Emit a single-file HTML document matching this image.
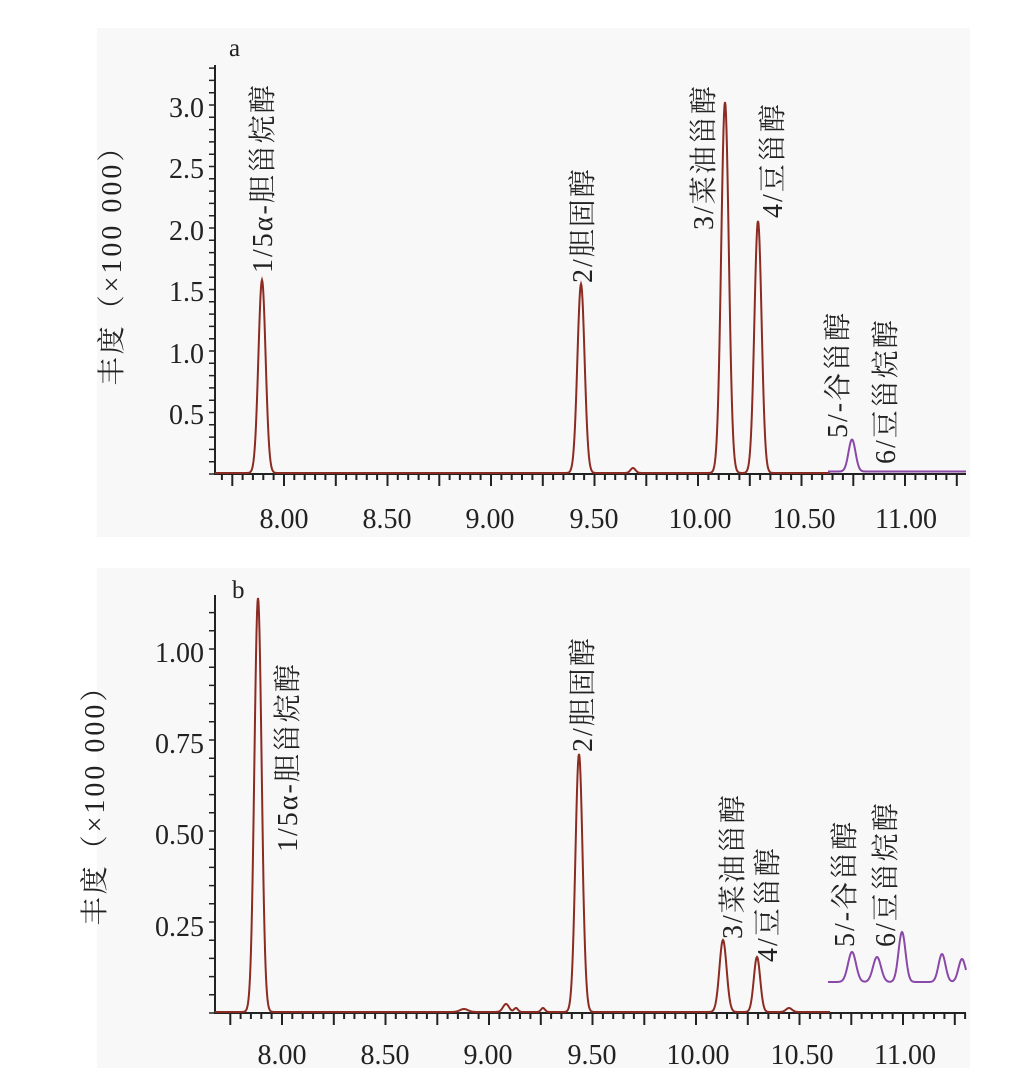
<!DOCTYPE html>
<html><head><meta charset="utf-8"><style>
body{margin:0;background:#fff;width:1019px;height:1091px;overflow:hidden}
svg{display:block}
text{font-family:"Liberation Serif","Noto Serif CJK SC",serif;fill:#222}
</style></head><body>
<svg id="s" width="1019" height="1091" xmlns="http://www.w3.org/2000/svg">
<rect x="97" y="28" width="873" height="509" fill="#f8f8f8"/>
<rect x="97" y="568" width="873" height="500" fill="#f8f8f8"/>
<text x="229" y="56" font-size="25">a</text>
<text x="232" y="598" font-size="25">b</text>
<g font-size="28" text-anchor="end">
<text x="204" y="117">3.0</text><text x="204" y="178">2.5</text><text x="204" y="240">2.0</text>
<text x="204" y="301">1.5</text><text x="204" y="363">1.0</text><text x="204" y="424">0.5</text>
<text x="204" y="662">1.00</text><text x="204" y="753">0.75</text><text x="204" y="844">0.50</text><text x="204" y="936">0.25</text>
</g>
<g font-size="28" text-anchor="middle">
<text x="284" y="528">8.00</text><text x="387" y="528">8.50</text><text x="490" y="528">9.00</text><text x="594" y="528">9.50</text><text x="700" y="528">10.00</text><text x="804" y="528">10.50</text><text x="906" y="528">11.00</text>
<text x="282" y="1064">8.00</text><text x="385" y="1064">8.50</text><text x="488" y="1064">9.00</text><text x="592" y="1064">9.50</text><text x="698" y="1064">10.00</text><text x="802" y="1064">10.50</text><text x="905" y="1064">11.00</text>
</g>
<g font-size="28" text-anchor="middle" letter-spacing="3">
<text transform="translate(121,258) rotate(-90)">丰度（×100 000）</text>
<text transform="translate(104,798) rotate(-90)">丰度（×100 000）</text>
</g>
<g font-size="28" letter-spacing="2">
<text transform="translate(272,273) rotate(-90)">1/5α-胆甾烷醇</text>
<text transform="translate(592,283) rotate(-90)">2/胆固醇</text>
<text transform="translate(713,230) rotate(-90)">3/菜油甾醇</text>
<text transform="translate(782,218) rotate(-90)">4/豆甾醇</text>
<text transform="translate(847,438) rotate(-90)">5/-谷甾醇</text>
<text transform="translate(895,464) rotate(-90)">6/豆甾烷醇</text>
<text transform="translate(297,852) rotate(-90)">1/5α-胆甾烷醇</text>
<text transform="translate(592,752) rotate(-90)">2/胆固醇</text>
<text transform="translate(742,939) rotate(-90)">3/菜油甾醇</text>
<text transform="translate(777,962) rotate(-90)">4/豆甾醇</text>
<text transform="translate(854,947) rotate(-90)">5/-谷甾醇</text>
<text transform="translate(895,947) rotate(-90)">6/豆甾烷醇</text>
</g>
<g id="ax" stroke="#222" fill="none"></g>
<g id="ser" fill="none" stroke-width="2"></g>
</svg>
<script>
var ax=document.getElementById('ax'),ser=document.getElementById('ser');
function add(p,tag,a){var e=document.createElementNS('http://www.w3.org/2000/svg',tag);for(var k in a)e.setAttribute(k,a[k]);p.appendChild(e);}
function axes(x0,top,base,yt,xs){
 add(ax,'path',{d:'M'+x0+' '+top+'V'+base+'H966','stroke-width':2});
 var d='';
 for(var y=base;y>top+2;y-=yt){d+='M'+(x0-6)+' '+y.toFixed(1)+'H'+x0;}
 add(ax,'path',{d:d,'stroke-width':1.5});
 d='';
 for(var i=0;;i++){var x=xs+i*10.35;if(x<x0+5){continue}if(x>966)break;var big=((i)%5==0);d+='M'+x.toFixed(1)+' '+base+'v'+(big?12:6);}
 add(ax,'path',{d:d,'stroke-width':2});
}
axes(215,65,474,12.3,284-10.35*5*6);
axes(215,595,1013,18.2,282-10.35*5*6);
function trace(x1,x2,base,peaks,off,col){
 var d='';
 for(var x=x1;x<=x2;x+=0.5){var y=base-off;for(var i=0;i<peaks.length;i++){var p=peaks[i];y-=p[1]*Math.exp(-Math.pow((x-p[0])/p[2],2)/2);}d+=(x==x1?'M':'L')+x.toFixed(1)+' '+y.toFixed(1);}
 add(ser,'path',{d:d,stroke:col});
}
var R='#8b2b22',P='#8a48a8';
trace(215,830,473,[[262,193,3.6],[581,189,3.6],[633,5,2.5],[725,371,3.8],[758,252,3.6]],0,R);
trace(828,966,473,[[852,32,3.5]],1.5,P);
trace(215,830,1012,[[258,414,3.6],[579,258,3.6],[464,3,4],[506,8,3],[516,4,2],[543,4,2],[723,72,3.6],[757,55,3.2],[789,4,3]],0,R);
trace(828,966,1012,[[852,30,4],[877,25,4],[902,50,3.5],[942,28,3.5],[962,23,3.5]],30,P);
</script>
</body></html>
